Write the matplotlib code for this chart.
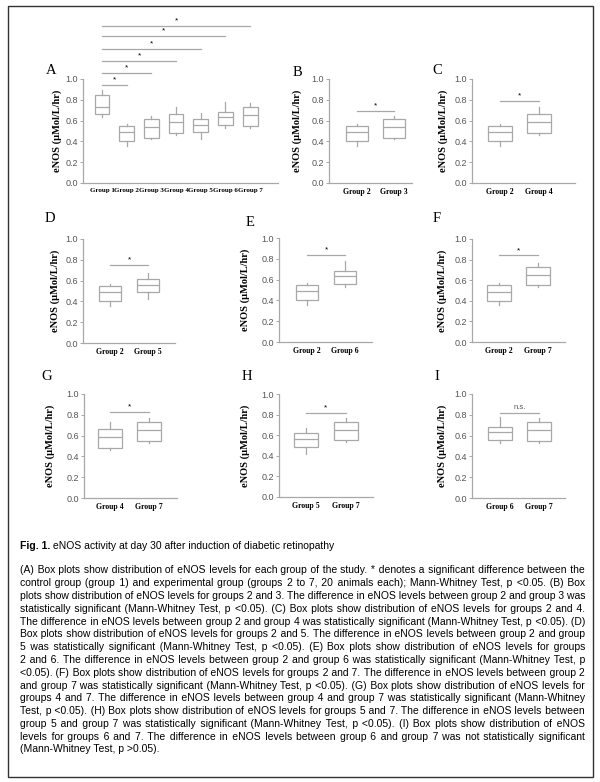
import matplotlib
matplotlib.use("Agg")
import matplotlib.pyplot as plt
from matplotlib.patches import Rectangle

# ---------------- data ----------------
groups = ["Group 1", "Group 2", "Group 3", "Group 4", "Group 5", "Group 6", "Group 7"]
whis_lo = [0.63, 0.36, 0.42, 0.46, 0.42, 0.53, 0.53]
q1 = [0.66, 0.40, 0.43, 0.48, 0.49, 0.56, 0.55]
median = [0.73, 0.49, 0.54, 0.59, 0.56, 0.63, 0.65]
q3 = [0.85, 0.55, 0.62, 0.66, 0.62, 0.68, 0.73]
whis_hi = [0.89, 0.57, 0.64, 0.73, 0.67, 0.78, 0.77]

a_pair_ends = [2, 3, 4, 5, 6, 7]
a_bar_heights = [0.94, 1.06, 1.17, 1.29, 1.41, 1.51]

sub_panels = ["B", "C", "D", "E", "F", "G", "H", "I"]
sub_pairs = [(2, 3), (2, 4), (2, 5), (2, 6), (2, 7), (4, 7), (5, 7), (6, 7)]
sub_bar_heights = [0.69, 0.79, 0.75, 0.84, 0.84, 0.83, 0.82, 0.82]
sub_marks = ["*", "*", "*", "*", "*", "*", "*", "n.s."]

yticks = [0.0, 0.2, 0.4, 0.6, 0.8, 1.0]
ylabel = "eNOS (µMol/L/hr)"

caption_title = "Fig. 1."
caption_sub = " eNOS activity at day 30 after induction of diabetic retinopathy"
caption_lines = [
    "(A) Box plots show distribution of eNOS levels for each group of the study. * denotes a significant difference between the",
    "control group (group 1) and experimental group (groups 2 to 7, 20 animals each); Mann-Whitney Test, p <0.05. (B) Box",
    "plots show distribution of eNOS levels for groups 2 and 3. The difference in eNOS levels between group 2 and group 3 was",
    "statistically significant (Mann-Whitney Test, p <0.05). (C) Box plots show distribution of eNOS levels for groups 2 and 4.",
    "The difference in eNOS levels between group 2 and group 4 was statistically significant (Mann-Whitney Test, p <0.05). (D)",
    "Box plots show distribution of eNOS levels for groups 2 and 5. The difference in eNOS levels between group 2 and group",
    "5 was statistically significant (Mann-Whitney Test, p <0.05).  (E) Box plots show distribution of eNOS levels for groups",
    "2 and 6. The difference in eNOS levels between group 2 and group 6 was statistically significant (Mann-Whitney Test, p",
    "<0.05). (F) Box plots show distribution of eNOS levels for groups 2 and 7. The difference in eNOS levels between group 2",
    "and group 7 was statistically significant (Mann-Whitney Test, p <0.05). (G) Box plots show distribution of eNOS levels for",
    "groups 4 and 7. The difference in eNOS levels between group 4 and group 7 was statistically significant (Mann-Whitney",
    "Test, p <0.05). (H) Box plots show distribution of eNOS levels for groups 5 and 7. The difference in eNOS levels between",
    "group 5 and group 7 was statistically significant (Mann-Whitney Test, p <0.05). (I) Box plots show distribution of eNOS",
    "levels for groups 6 and 7. The difference in eNOS levels between group 6 and group 7 was not statistically significant",
    "(Mann-Whitney Test, p >0.05).",
]

# ---------------- layout (pixels) ----------------
W, H = 600, 782
fig = plt.figure(figsize=(W / 100, H / 100), dpi=100)
fig.patch.set_facecolor("white")

SERIF = "Liberation Serif"
SANS = ["Liberation Sans", "DejaVu Sans"]
GRAY = "#a8a8a8"

# letter: left, right, top, bottom, xlim, letter pos, ylabel x, group-label size
layout = {
    "A": (83, 278, 79, 183, (0.23, 8.13), (51, 70), 62, 5.0),
    "B": (329, 412, 79, 183, (0.24, 2.49), (297, 72), 302, 5.6),
    "C": (472, 575, 79, 183, (0.28, 2.92), (437, 71), 448, 5.6),
    "D": (83, 175, 239, 343, (0.29, 2.71), (50, 218), 60, 5.6),
    "E": (279, 372, 238, 342, (0.26, 2.71), (250, 222), 250, 5.6),
    "F": (472, 565, 239, 342, (0.31, 2.69), (437, 218), 447, 5.6),
    "G": (84, 177, 394, 498, (0.33, 2.72), (47, 377), 55, 5.6),
    "H": (279, 373, 394, 497, (0.325, 2.675), (247, 377), 250, 5.6),
    "I": (472, 565, 394, 498, (0.28, 2.67), (437, 377), 447, 5.6),
}


def make_axes(key):
    l, r, t, b, xlim, lpos, ylx, _ = layout[key]
    ax = fig.add_axes([l / W, 1 - b / H, (r - l) / W, (b - t) / H])
    ax.set_xlim(*xlim)
    ax.set_ylim(0, 1.0)
    for s in ("top", "right"):
        ax.spines[s].set_visible(False)
    for s in ("left", "bottom"):
        ax.spines[s].set_color(GRAY)
        ax.spines[s].set_linewidth(0.9)
    ax.set_yticks(yticks)
    ax.set_yticklabels([f"{v:.1f}" for v in yticks], fontsize=6.5,
                       color="#555555", fontfamily=SANS)
    ax.tick_params(axis="y", length=2, width=0.7, color=GRAY, pad=1.5)
    ax.tick_params(axis="x", length=0, pad=3.5)
    ax.set_ylabel(ylabel, fontfamily=SERIF, fontweight="bold", fontsize=7.5)
    ax.yaxis.set_label_coords((ylx - l) / (r - l), 0.5)
    fig.text(lpos[0] / W, 1 - lpos[1] / H, key, fontfamily=SERIF,
             fontsize=10.5, ha="center", va="center")
    return ax


def draw_boxes(ax, key, idxs, width):
    stats = []
    for i in idxs:
        k = i - 1
        stats.append(dict(med=median[k], q1=q1[k], q3=q3[k],
                          whislo=whis_lo[k], whishi=whis_hi[k], label=groups[k]))
    pos = list(range(1, len(idxs) + 1))
    ax.bxp(stats, positions=pos, widths=width, showfliers=False, showcaps=False,
           patch_artist=True,
           boxprops=dict(facecolor="white", edgecolor=GRAY, linewidth=0.9),
           whiskerprops=dict(color=GRAY, linewidth=0.9),
           medianprops=dict(color=GRAY, linewidth=0.9))
    ax.set_xticks(pos)
    ax.set_xticklabels([groups[i - 1] for i in idxs], fontfamily=SERIF,
                       fontweight="bold", fontsize=layout[key][7])
    return pos


def sig_bar(ax, x0, x1, y, mark):
    ax.plot([x0, x1], [y, y], color=GRAY, lw=0.9, clip_on=False)
    if mark == "*":
        ax.text((x0 + x1) / 2, y + 0.015, "*", ha="center", va="bottom",
                fontsize=6, color="black", fontfamily=SANS, clip_on=False)
    else:
        ax.text((x0 + x1) / 2, y + 0.015, mark, ha="center", va="bottom",
                fontsize=5.5, color="#555555", fontfamily=SANS, clip_on=False)


# Panel A
axA = make_axes("A")
draw_boxes(axA, "A", list(range(1, 8)), 0.6)
for end, h in zip(a_pair_ends, a_bar_heights):
    sig_bar(axA, 1, end, h, "*")

# Panels B-I
for key, pair, h, mark in zip(sub_panels, sub_pairs, sub_bar_heights, sub_marks):
    ax = make_axes(key)
    draw_boxes(ax, key, list(pair), 0.6)
    sig_bar(ax, 1, 2, h, mark)

# ---------------- caption (justified) ----------------
renderer = fig.canvas.get_renderer()
X0, X1 = 20, 585
TARGET = X1 - X0
HS = "\u200a"


def txt_width(s, fs, weight="normal"):
    t = fig.text(0, 0, s, fontfamily=SANS, fontsize=fs, fontweight=weight)
    w = t.get_window_extent(renderer).width
    t.remove()
    return w


fs0 = 7.0
ratios = [TARGET / txt_width(" ".join(l.split()), fs0) for l in caption_lines[:-1]]
CAP_FS = fs0 * min(ratios) * 0.998

hs_w = (txt_width("a" + HS * 40 + "a", CAP_FS) - txt_width("aa", CAP_FS)) / 40.0

# title line
y_title = 546 + 3.4
fig.text(X0 / W, 1 - y_title / H, caption_title, fontfamily=SANS,
         fontweight="bold", fontsize=CAP_FS, va="baseline")
wt = txt_width(caption_title, CAP_FS, "bold")
fig.text((X0 + wt) / W, 1 - y_title / H, caption_sub, fontfamily=SANS,
         fontsize=CAP_FS, va="baseline")

y0, dy = 570, 12.79
for li, line in enumerate(caption_lines):
    yb = y0 + li * dy + 3.4
    words = line.split()
    if li == len(caption_lines) - 1 or hs_w <= 0:
        s = " ".join(words)
    else:
        nat = txt_width(" ".join(words), CAP_FS)
        n = max(0, int(round((TARGET - nat) / hs_w)))
        gaps = len(words) - 1
        s = words[0]
        for i, w in enumerate(words[1:]):
            k = int(round((i + 1) * n / gaps)) - int(round(i * n / gaps))
            s += " " + HS * k + w
    fig.text(X0 / W, 1 - yb / H, s, fontfamily=SANS, fontsize=CAP_FS,
             va="baseline")

# border
fig.patches.append(Rectangle((8 / W, 1 - 777 / H), (593 - 8) / W, (777 - 6) / H,
                             transform=fig.transFigure, fill=False,
                             edgecolor="#333333", linewidth=1.0))

fig.savefig("out.png", dpi=100)
